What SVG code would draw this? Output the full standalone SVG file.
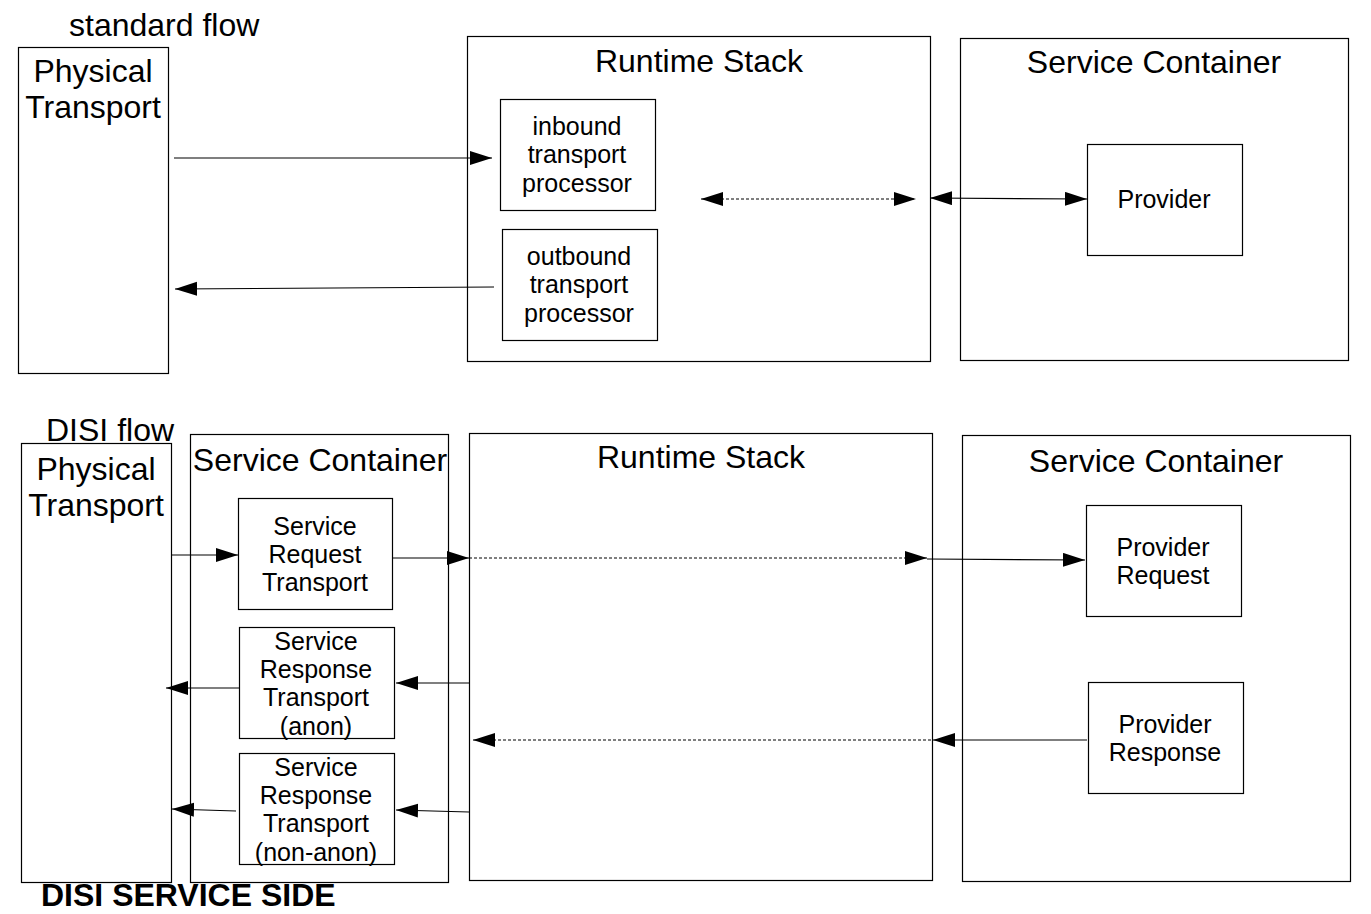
<svg xmlns="http://www.w3.org/2000/svg" width="1371" height="914" viewBox="0 0 1371 914">
<style>
.box{fill:#fff;stroke:#000;stroke-width:1.2}
.t{font-family:"Liberation Sans",Arial,sans-serif;font-size:32px;fill:#000}
.n{font-family:"Liberation Sans",Arial,sans-serif;font-size:25px;fill:#000;text-anchor:middle}
.c{fill:none;stroke:#000;stroke-width:1.2}
.d{fill:none;stroke:#000;stroke-width:1;stroke-dasharray:3,2}
</style>
<defs>
<marker id="ah" markerUnits="userSpaceOnUse" markerWidth="24" markerHeight="16" refX="22" refY="7" orient="auto-start-reverse" viewBox="0 0 24 16">
<path d="M0,0 L22,7 L0,14 z" fill="#000"/>
</marker>
</defs>
<rect width="1371" height="914" fill="#fff"/>
<text class="t" x="69" y="36">standard flow</text>
<text class="t" x="46" y="441">DISI flow</text>
<text class="t" x="41" y="906" style="font-weight:bold">DISI SERVICE SIDE</text>

<g id="phys1"><rect class="box" x="18.5" y="47.5" width="150" height="326"/>
<text class="t" x="93" y="82" text-anchor="middle">Physical</text><text class="t" x="93" y="118" text-anchor="middle">Transport</text></g>
<g id="rs1"><rect class="box" x="467.5" y="36.5" width="463" height="325"/>
<text class="t" x="699" y="72" text-anchor="middle">Runtime Stack</text></g>
<g id="inbound"><rect class="box" x="500.5" y="99.5" width="155" height="111"/>
<text class="n" x="577" y="135">inbound</text><text class="n" x="577" y="163">transport</text><text class="n" x="577" y="192">processor</text></g>
<g id="outbound"><rect class="box" x="502.5" y="229.5" width="155" height="111"/>
<text class="n" x="579" y="265">outbound</text><text class="n" x="579" y="293">transport</text><text class="n" x="579" y="322">processor</text></g>
<g id="sc1"><rect class="box" x="960.5" y="38.5" width="388" height="322"/>
<text class="t" x="1154" y="73" text-anchor="middle">Service Container</text></g>
<g id="provider"><rect class="box" x="1087.5" y="144.5" width="155" height="111"/>
<text class="n" x="1164" y="208">Provider</text></g>

<g id="phys2"><rect class="box" x="21.5" y="443.5" width="150" height="439"/>
<text class="t" x="96" y="480" text-anchor="middle">Physical</text><text class="t" x="96" y="516" text-anchor="middle">Transport</text></g>
<g id="sc2"><rect class="box" x="190.5" y="434.5" width="258" height="448"/>
<text class="t" x="320" y="471" text-anchor="middle">Service Container</text></g>
<g id="srt"><rect class="box" x="238.5" y="498.5" width="154" height="111"/>
<text class="n" x="315" y="535">Service</text><text class="n" x="315" y="563">Request</text><text class="n" x="315" y="591">Transport</text></g>
<g id="srta"><rect class="box" x="239.5" y="627.5" width="155" height="111"/>
<text class="n" x="316" y="650">Service</text><text class="n" x="316" y="678">Response</text><text class="n" x="316" y="706">Transport</text><text class="n" x="316" y="735">(anon)</text></g>
<g id="srtn"><rect class="box" x="239.5" y="753.5" width="155" height="111"/>
<text class="n" x="316" y="776">Service</text><text class="n" x="316" y="804">Response</text><text class="n" x="316" y="832">Transport</text><text class="n" x="316" y="861">(non-anon)</text></g>
<g id="rs2"><rect class="box" x="469.5" y="433.5" width="463" height="447"/>
<text class="t" x="701" y="468" text-anchor="middle">Runtime Stack</text></g>
<g id="sc3"><rect class="box" x="962.5" y="435.5" width="388" height="446"/>
<text class="t" x="1156" y="472" text-anchor="middle">Service Container</text></g>
<g id="preq"><rect class="box" x="1086.5" y="505.5" width="155" height="111"/>
<text class="n" x="1163" y="556">Provider</text><text class="n" x="1163" y="584">Request</text></g>
<g id="presp"><rect class="box" x="1088.5" y="682.5" width="155" height="111"/>
<text class="n" x="1165" y="733">Provider</text><text class="n" x="1165" y="761">Response</text></g>

<g id="connectors">
<path class="c" d="M174,158 L492,158" marker-end="url(#ah)"/>
<path class="c" d="M494,287 L175,289" marker-end="url(#ah)"/>
<path class="d" d="M701,199 L916,199" marker-start="url(#ah)" marker-end="url(#ah)"/>
<path class="c" d="M930,198 L1087,199" marker-start="url(#ah)" marker-end="url(#ah)"/>

<path class="c" d="M172,555 L238,555" marker-end="url(#ah)"/>
<path class="c" d="M393,558 L469,558" marker-end="url(#ah)"/>
<path class="d" d="M469,558 L927,558" marker-end="url(#ah)"/>
<path class="c" d="M927,559 L1085,560" marker-end="url(#ah)"/>
<path class="c" d="M1087,740 L933,740" marker-end="url(#ah)"/>
<path class="d" d="M931,740 L473,740" marker-end="url(#ah)"/>
<path class="c" d="M469,683 L396,683" marker-end="url(#ah)"/>
<path class="c" d="M239,688 L166,688" marker-end="url(#ah)"/>
<path class="c" d="M469,812 L396,810" marker-end="url(#ah)"/>
<path class="c" d="M236,811 L172,809" marker-end="url(#ah)"/>
</g>
</svg>
